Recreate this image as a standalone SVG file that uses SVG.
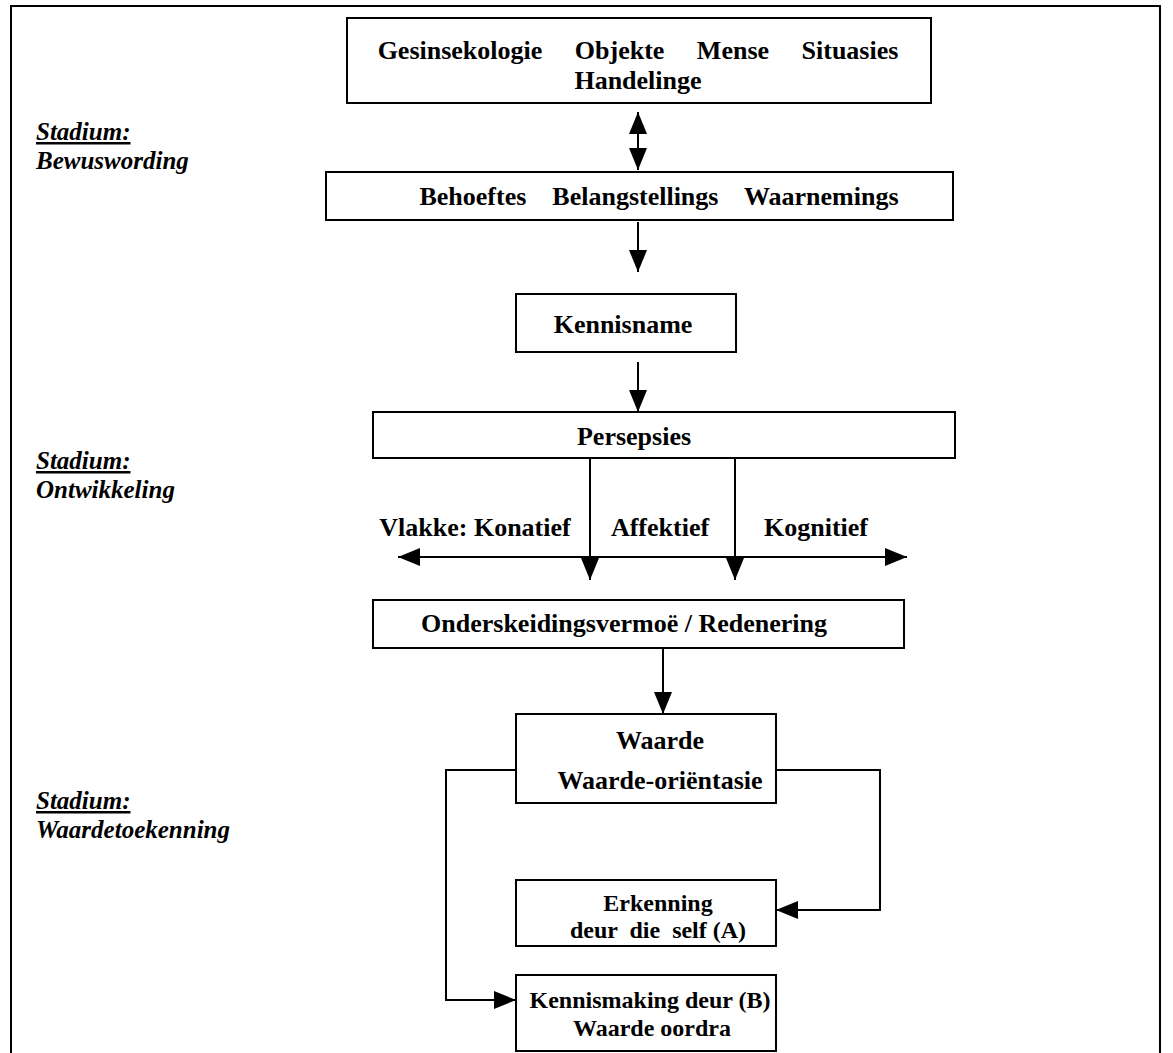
<svg xmlns="http://www.w3.org/2000/svg" width="1173" height="1053" viewBox="0 0 1173 1053">
<style>
.box{fill:#fff;stroke:#000;stroke-width:2}
.t{font-family:"Liberation Serif","Times New Roman",serif;font-weight:bold;font-size:26px;fill:#000;text-anchor:middle;white-space:pre}
.sm{font-size:24px}
.s{font-family:"Liberation Serif","Times New Roman",serif;font-weight:bold;font-style:italic;font-size:25px;fill:#000}
.c{fill:none;stroke:#000;stroke-width:2}
</style>
<defs>
<marker id="big" viewBox="0 0 22 18" refX="22" refY="9" markerWidth="22" markerHeight="18" markerUnits="userSpaceOnUse" orient="auto-start-reverse">
<path d="M0,0 L22,9 L0,18 z" fill="#000"/>
</marker>
</defs>
<rect x="11" y="6" width="1149" height="1060" fill="none" stroke="#000" stroke-width="2"/>

<g id="labels">
<text class="s" x="36" y="140"><tspan text-decoration="underline">Stadium:</tspan></text>
<text class="s" x="36" y="169">Bewuswording</text>
<text class="s" x="36" y="469"><tspan text-decoration="underline">Stadium:</tspan></text>
<text class="s" x="36" y="498">Ontwikkeling</text>
<text class="s" x="36" y="809"><tspan text-decoration="underline">Stadium:</tspan></text>
<text class="s" x="36" y="838">Waardetoekenning</text>
</g>

<g id="n1">
<rect class="box" x="347" y="18" width="584" height="85"/>
<text class="t" x="638" y="59">Gesinsekologie     Objekte     Mense     Situasies</text>
<text class="t" x="638" y="89">Handelinge</text>
</g>
<g id="n2">
<rect class="box" x="326" y="172" width="627" height="48"/>
<text class="t" x="659" y="205">Behoeftes    Belangstellings    Waarnemings</text>
</g>
<g id="n3">
<rect class="box" x="516" y="294" width="220" height="58"/>
<text class="t" x="623" y="333">Kennisname</text>
</g>
<g id="n4">
<rect class="box" x="373" y="412" width="582" height="46"/>
<text class="t" x="634" y="445">Persepsies</text>
</g>
<g id="n5">
<rect class="box" x="373" y="600" width="531" height="48"/>
<text class="t" x="624" y="632">Onderskeidingsvermoë / Redenering</text>
</g>
<g id="n6">
<rect class="box" x="516" y="714" width="260" height="89"/>
<text class="t" x="660" y="749">Waarde</text>
<text class="t" x="660" y="789">Waarde-oriëntasie</text>
</g>
<g id="n7">
<rect class="box" x="516" y="880" width="260" height="66"/>
<text class="t sm" x="658" y="911">Erkenning</text>
<text class="t sm" x="658" y="938">deur  die  self (A)</text>
</g>
<g id="n8">
<rect class="box" x="516" y="975" width="260" height="76"/>
<text class="t sm" x="650" y="1008">Kennismaking deur (B)</text>
<text class="t sm" x="652" y="1036">Waarde oordra</text>
</g>

<g id="plane-labels">
<text class="t" x="475" y="536">Vlakke: Konatief</text>
<text class="t" x="660" y="536">Affektief</text>
<text class="t" x="816" y="536">Kognitief</text>
</g>

<g id="connectors">
<line class="c" x1="638" y1="112" x2="638" y2="170" marker-start="url(#big)" marker-end="url(#big)"/>
<line class="c" x1="638" y1="222" x2="638" y2="272" marker-end="url(#big)"/>
<line class="c" x1="638" y1="362" x2="638" y2="412" marker-end="url(#big)"/>
<line class="c" x1="398" y1="557" x2="907" y2="557" marker-start="url(#big)" marker-end="url(#big)"/>
<line class="c" x1="590" y1="458" x2="590" y2="580" marker-end="url(#big)"/>
<line class="c" x1="735" y1="458" x2="735" y2="580" marker-end="url(#big)"/>
<line class="c" x1="663" y1="648" x2="663" y2="714" marker-end="url(#big)"/>
<polyline class="c" points="516,770 446,770 446,1000 516,1000" marker-end="url(#big)"/>
<polyline class="c" points="776,770 880,770 880,910 776,910" marker-end="url(#big)"/>
</g>
</svg>
